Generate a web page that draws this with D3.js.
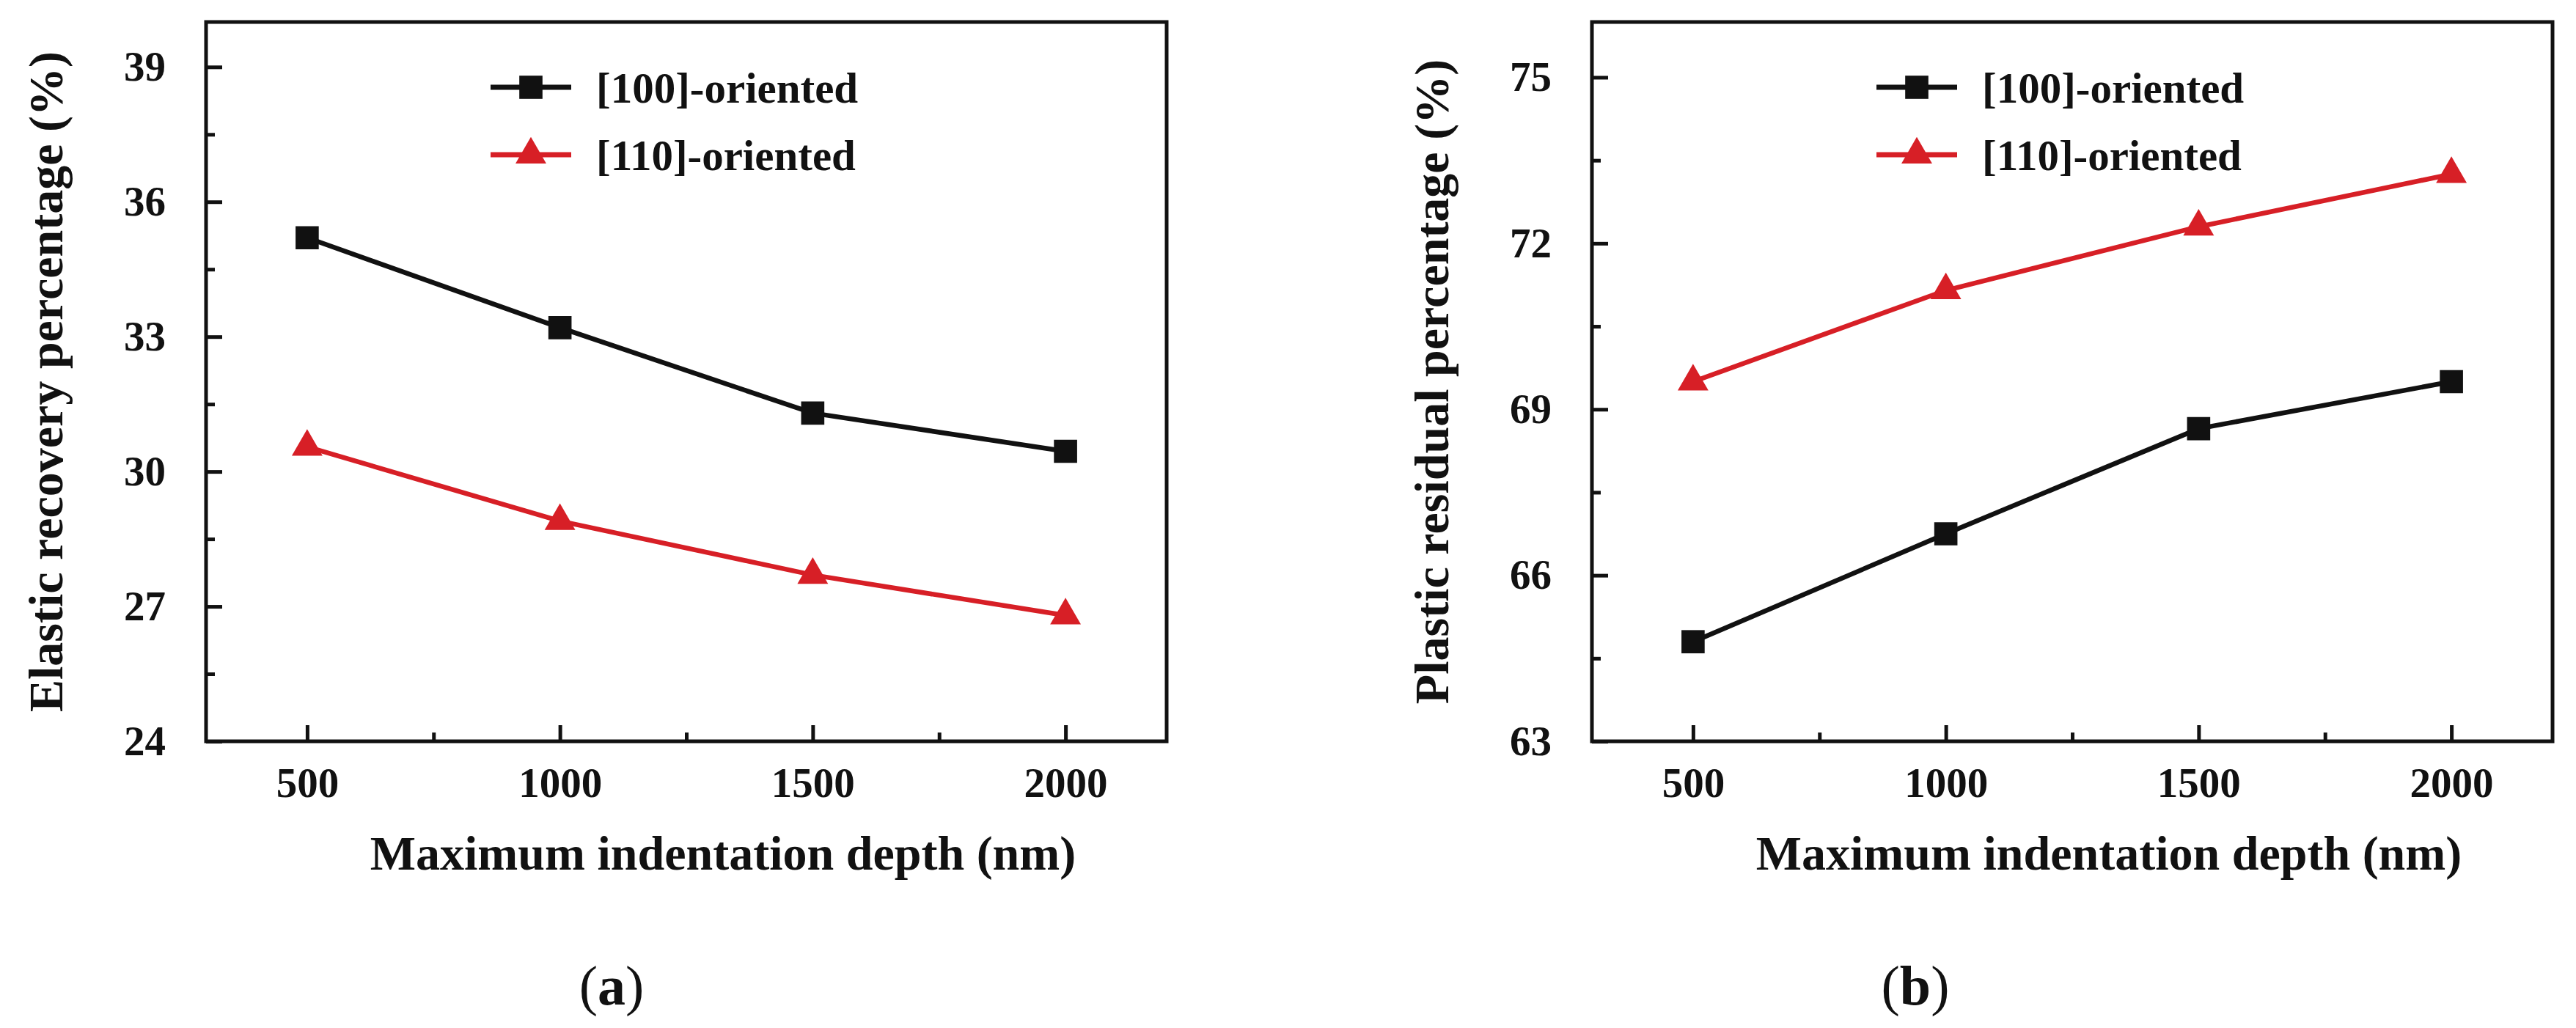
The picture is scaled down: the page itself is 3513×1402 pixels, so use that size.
<!DOCTYPE html>
<html>
<head>
<meta charset="utf-8">
<script src="https://cdn.jsdelivr.net/npm/d3@7"></script>
<style>
  body { margin: 0; background: #fff; }
  svg text { font-family: "Liberation Serif", "Times New Roman", serif; fill: #111; }
</style>
</head>
<body>
<div id="chart"></div>
<script>
// data
var depths = [500, 1000, 1500, 2000];
var depthTicks = [500, 1000, 1500, 2000];
var depthMinor = [750, 1250, 1750];

var elastic100 = [35.2, 33.2, 31.3, 30.45];
var elastic110 = [30.55, 28.9, 27.7, 26.8];
var elasticTicks = [24, 27, 30, 33, 36, 39];

var plastic100 = [64.8, 66.75, 68.65, 69.5];
var plastic110 = [69.5, 71.15, 72.3, 73.25];
var plasticTicks = [63, 66, 69, 72, 75];

var seriesNames = ['[100]-oriented', '[110]-oriented'];

'use strict';

var RED = '#d71f26',
    BLACK = '#111',
    SERIF = '"Liberation Serif", "Times New Roman", serif';

var svg = d3.select('#chart').append('svg')
    .attr('width', 3513)
    .attr('height', 1402);

/**
 * draws one panel
 */
function panel(opt) {
  var w = 1310, h = 981
    , x = d3.scaleLinear().domain([300, 2200]).range([0, w])
    , y = d3.scaleLinear().domain(opt.domain).range([h, 0])
    , step = opt.ticks[1] - opt.ticks[0]
    , minorY = opt.ticks.map(function (t) { return t + step / 2; })
          .filter(function (t) { return t < opt.domain[1]; })
  ;

  var g = svg.append('g')
      .attr('transform', 'translate(' + opt.left + ',30)');

  //
  // minor ticks first, no labels
  //
  g.append('g')
      .attr('transform', 'translate(0,' + h + ')')
      .call(d3.axisBottom(x).tickValues(depthMinor).tickSize(-12).tickSizeOuter(0).tickFormat(''));
  g.append('g')
      .call(d3.axisLeft(y).tickValues(minorY).tickSize(-12).tickSizeOuter(0).tickFormat(''));

  // major ticks, pointing in
  g.append('g')
      .attr('class', 'xaxis')
      .attr('transform', 'translate(0,' + h + ')')
      .call(d3.axisBottom(x).tickValues(depthTicks).tickSize(-22).tickSizeOuter(0)
        .tickPadding(36).tickFormat(d3.format('d')));
  g.append('g')
      .attr('class', 'yaxis')
      .call(d3.axisLeft(y).tickValues(opt.ticks).tickSize(-22).tickSizeOuter(0)
        .tickPadding(55).tickFormat(d3.format('d')));

  g.selectAll('.domain').remove();
  g.selectAll('.tick line').attr('stroke', BLACK).attr('stroke-width', 5);
  g.selectAll('.tick text')
      .attr('fill', BLACK)
      .style('font-family', SERIF)
      .style('font-size', '57px')
      .style('font-weight', 'bold');

  // frame
  g.append('rect')
      .attr('width', w)
      .attr('height', h)
      .attr('fill', 'none')
      .attr('stroke', BLACK)
      .attr('stroke-width', 5);

  //
  // the lines and markers
  //
  var line = d3.line()
      .x(function (d, i) { return x(depths[i]); })
      .y(function (d) { return y(d); });

  var series = [
    { values: opt.s100, color: BLACK, symbol: d3.symbolSquare, size: 1000 },
    { values: opt.s110, color: RED, symbol: d3.symbolTriangle, size: 760 }
  ];

  series.forEach(function (s) {
    g.append('path')
        .attr('d', line(s.values))
        .attr('fill', 'none')
        .attr('stroke', s.color)
        .attr('stroke-width', 6.5);

    g.selectAll(null)
        .data(s.values)
      .enter()
        .append('path')
        .attr('d', d3.symbol().type(s.symbol).size(s.size))
        .attr('transform', function (d, i) {
          return 'translate(' + x(depths[i]) + ',' + y(d) + ')';
        })
        .attr('fill', s.color);
  });

  //
  // legend
  //
  var legend = g.selectAll('g.legend')
      .data(series)
    .enter()
      .append('g')
      .attr('class', 'legend')
      .attr('transform', function (d, i) { return 'translate(388,' + (89 + i * 92) + ')'; });

  legend.append('line')
      .attr('x1', 0).attr('x2', 110)
      .attr('stroke', function (d) { return d.color; })
      .attr('stroke-width', 7);
  legend.append('path')
      .attr('d', function (d) { return d3.symbol().type(d.symbol).size(d.size)(); })
      .attr('transform', 'translate(55,0)')
      .attr('fill', function (d) { return d.color; });
  legend.append('text')
      .attr('x', 144)
      .attr('dy', '0.35em')
      .style('font-family', SERIF)
      .style('font-size', '59px')
      .style('font-weight', 'bold')
      .text(function (d, i) { return seriesNames[i]; });

  // axis titles
  g.append('text')
      .attr('x', 705)
      .attr('y', 1156)
      .attr('text-anchor', 'middle')
      .style('font-family', SERIF)
      .style('font-size', '66px')
      .style('font-weight', 'bold')
      .text('Maximum indentation depth (nm)');

  g.append('text')
      .attr('transform', 'translate(-196,' + (h / 2) + ') rotate(-90)')
      .attr('text-anchor', 'middle')
      .style('font-family', SERIF)
      .style('font-size', '66px')
      .style('font-weight', 'bold')
      .text(opt.ylabel);

  // sub caption
  var cap = svg.append('text')
      .attr('x', opt.capX)
      .attr('y', 1370)
      .attr('text-anchor', 'middle')
      .style('font-family', SERIF)
      .style('font-size', '76px');
  cap.append('tspan').text('(');
  cap.append('tspan').style('font-weight', 'bold').text(opt.cap);
  cap.append('tspan').text(')');
}

panel({
  left: 281,
  domain: [24, 40],
  ticks: elasticTicks,
  s100: elastic100,
  s110: elastic110,
  ylabel: 'Elastic recovery percentage (%)',
  cap: 'a',
  capX: 834
});

panel({
  left: 2171,
  domain: [63, 76],
  ticks: plasticTicks,
  s100: plastic100,
  s110: plastic110,
  ylabel: 'Plastic residual percentage (%)',
  cap: 'b',
  capX: 2612
});
</script>
</body>
</html>
